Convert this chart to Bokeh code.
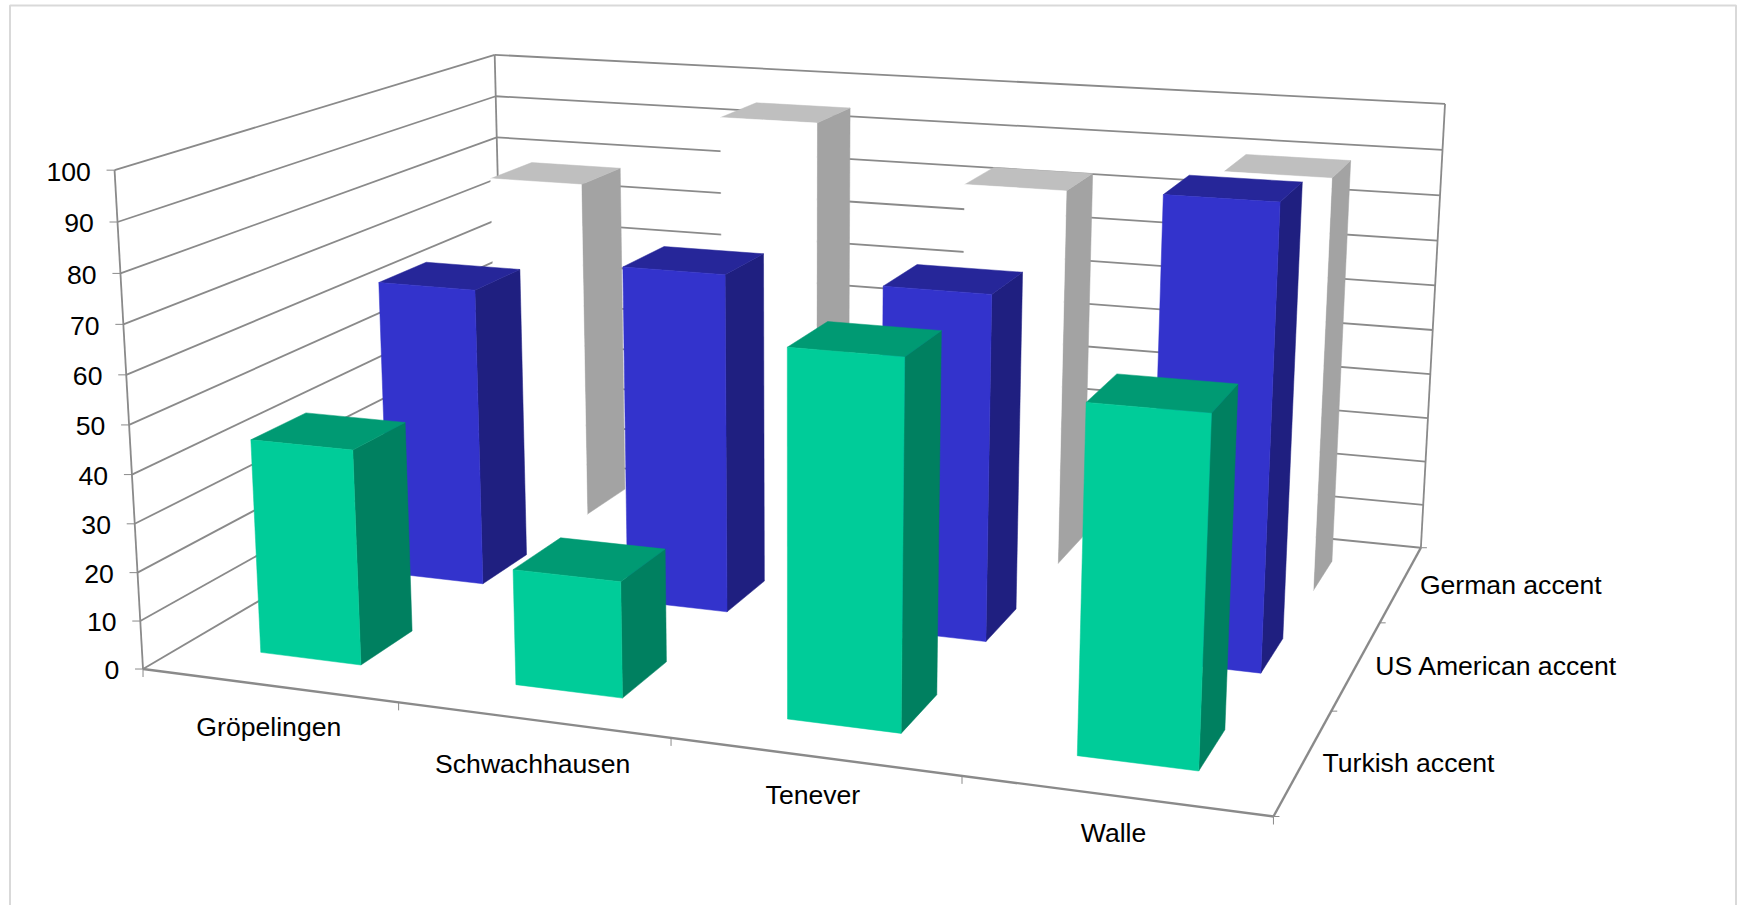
import numpy as np
from bokeh.core.properties import value
from bokeh.embed import file_html
from bokeh.models import ColumnDataSource, Range1d
from bokeh.plotting import figure
from bokeh.resources import INLINE

# Chart data: percentage per district and accent
districts = ["Gröpelingen", "Schwachhausen", "Tenever", "Walle"]
accents = ["Turkish accent", "US American accent", "German accent"]
turkish = [44.3, 23.5, 72.2, 66.7]
us_american = [64.7, 72.1, 72.2, 94.3]
german = [77.6, 94.7, 83.2, 89.4]
value_ticks = [0, 10, 20, 30, 40, 50, 60, 70, 80, 90, 100]

# Front, top and side shades of each series, front series first
shades = [
    ("#00CC99", "#009A73", "#008060"),
    ("#3333CC", "#262699", "#1F1F80"),
    ("#FFFFFF", "#BFBFBF", "#A3A3A3"),
]

# Camera anchors: plot-box coordinates (u, w, v) and where they land on the page
box_corners = [
    (0, 0, 0, 142.6, 668.3), (1, 0, 0, 1272, 816), (1, 1, 0, 1420, 547.7),
    (0, 0, 1, 113.8, 170), (0, 1, 1, 494, 54), (1, 1, 1, 1444, 103.7),
]
anchors = box_corners * 4 + [
    (.25, 0, 0, 397.3, 702.7), (.5, 0, 0, 669.8, 737.3), (.75, 0, 0, 960, 775),
    (1, 2 / 3, 0, 1381.5, 623.3), (1, 1 / 3, 0, 1333.4, 711),
    (0, 0, .5, 128.7, 425), (1, 1, .5, 1431, 329.3),
    (0, 1, .9, 495.5, 96), (0, 1, .8, 496.7, 136.7),
    (0, 0, .2, 137.5, 572.7), (0, 0, .8, 120.5, 273.3),
    (1, 1, .8, 1440, 194.3), (1, 1, .2, 1425, 461),
    # Floor and roof corners of the right-hand bars tighten the fit in the depth of the box
    (.925, .1, 0, 1198.5, 770), (.675, .1, 0, 900.4, 732.7), (.175, .1, 0, 360.7, 664),
    (.925, 1.3 / 3, 0, 1261, 671.7), (.925, 2.3 / 3, 0, 1313.5, 589.3),
    (.925, 1.3 / 3, .943, 1280.8, 201), (.925, 2.3 / 3, .894, 1332.3, 177.3),
    (.825, .1, .667, 1086.8, 401.7), (.675, .1, .722, 904.8, 356),
]


def solve_camera(rows):
    """Direct linear transform from box coordinates to page pixels."""
    eqs = []
    for u, w, v, x, y in rows:
        h = [u, w, v, 1]
        x, y = x / 1000, y / 1000
        eqs.append(h + [0, 0, 0, 0] + [-x * c for c in h])
        eqs.append([0, 0, 0, 0] + h + [-y * c for c in h])
    return np.linalg.svd(np.array(eqs))[2][-1].reshape(3, 4)


CAM = solve_camera(anchors)


def project(u, w, pct):
    h = CAM @ np.array([u, w, pct / 100, 1.0])
    return tuple(h[:2] / h[2] * 1000)


def segment(a, b):
    pa, pb = project(*a), project(*b)
    return [pa[0], pb[0]], [pa[1], pb[1]]


p = figure(
    width=1737, height=905, output_backend="svg", toolbar_location=None,
    x_range=Range1d(0, 1737), y_range=Range1d(905, 0),
    min_border=0, background_fill_color="white", border_fill_color="white",
)
p.axis.visible = False
p.grid.visible = False
p.outline_line_color = None

# Chart-area frame, running off the bottom of the page
p.line([9.5, 9.5, 1735.5, 1735.5], [915, 5, 5, 915], line_color="#D9D9D9", line_width=2)

# Wall gridlines
grid_xs, grid_ys = [], []
for t in value_ticks:
    for a, b in (((0, 0, t), (0, 1, t)), ((0, 1, t), (1, 1, t))):
        xs, ys = segment(a, b)
        grid_xs.append(xs)
        grid_ys.append(ys)
for a, b in (((0, 0, 0), (0, 0, 100)), ((0, 1, 0), (0, 1, 100)), ((1, 1, 0), (1, 1, 100))):
    xs, ys = segment(a, b)
    grid_xs.append(xs)
    grid_ys.append(ys)
p.multi_line(grid_xs, grid_ys, line_color="#8A8A8A", line_width=1.8)

# Floor axes
axis_xs, axis_ys = [], []
for a, b in (((0, 0, 0), (1, 0, 0)), ((1, 0, 0), (1, 1, 0))):
    xs, ys = segment(a, b)
    axis_xs.append(xs)
    axis_ys.append(ys)
p.multi_line(axis_xs, axis_ys, line_color="#8A8A8A", line_width=2.4)

# Tick marks on the three axes
tick_xs, tick_ys = [], []
for t in value_ticks:
    x, y = project(0, 0, t)
    tick_xs.append([x - 8, x])
    tick_ys.append([y, y])
for i in range(len(districts) + 1):
    x, y = project(i / len(districts), 0, 0)
    tick_xs.append([x, x])
    tick_ys.append([y, y + 8])
for s in range(len(accents) + 1):
    x, y = project(1, s / len(accents), 0)
    tick_xs.append([x, x + 6])
    tick_ys.append([y, y])
p.multi_line(tick_xs, tick_ys, line_color="#8A8A8A", line_width=1)

# Bars, painted from the back row forward; each bar fills 40% of its cell
BAR_LOW, BAR_HIGH = 0.3, 0.7
series = [turkish, us_american, german]
face_xs, face_ys, face_colors = [], [], []
for s in reversed(range(len(series))):
    front, top, side = shades[s]
    wf, wb = (s + BAR_LOW) / len(accents), (s + BAR_HIGH) / len(accents)
    for i, pct in enumerate(series[s]):
        ul, ur = (i + BAR_LOW) / len(districts), (i + BAR_HIGH) / len(districts)
        faces = [
            ([(ur, wf, 0), (ur, wb, 0), (ur, wb, pct), (ur, wf, pct)], side),
            ([(ul, wf, pct), (ur, wf, pct), (ur, wb, pct), (ul, wb, pct)], top),
            ([(ul, wf, 0), (ur, wf, 0), (ur, wf, pct), (ul, wf, pct)], front),
        ]
        for corners, colour in faces:
            pts = [project(*c) for c in corners]
            face_xs.append([q[0] for q in pts])
            face_ys.append([q[1] for q in pts])
            face_colors.append(colour)
p.patches(
    "xs", "ys", fill_color="color", line_color="color", line_width=0.5,
    source=ColumnDataSource(dict(xs=face_xs, ys=face_ys, color=face_colors)),
)

# Axis labels
LABEL_FONT = value("Liberation Sans")
LABEL_SIZE = value("26.6px")
LABEL_COLOR = "#000000"

vx, vy = zip(*[project(0, 0, t) for t in value_ticks])
p.text(
    [x - 23.8 for x in vx], [y + 1.4 for y in vy], text=[str(t) for t in value_ticks],
    text_font=LABEL_FONT, text_font_size=LABEL_SIZE, text_color=LABEL_COLOR,
    text_align="right", text_baseline="middle",
)

district_shift = [0, 0, -1.2, -1.5]
district_nudge = [42, 44, 38.5, 37]
dx, dy = zip(*[project((i + 0.5) / len(districts), 0, 0) for i in range(len(districts))])
p.text(
    [x + n for x, n in zip(dx, district_shift)], [y + n for y, n in zip(dy, district_nudge)],
    text=districts,
    text_font=LABEL_FONT, text_font_size=LABEL_SIZE, text_color=LABEL_COLOR,
    text_align="center", text_baseline="alphabetic",
)

ax, ay = zip(*[project(1, (s + 0.5) / len(accents), 0) for s in range(len(accents))])
p.text(
    [x + 18.8 for x in ax], [y + 1.2 for y in ay], text=accents,
    text_font=LABEL_FONT, text_font_size=LABEL_SIZE, text_color=LABEL_COLOR,
    text_align="left", text_baseline="alphabetic",
)

open("out.html", "w").write(file_html(p, INLINE))
